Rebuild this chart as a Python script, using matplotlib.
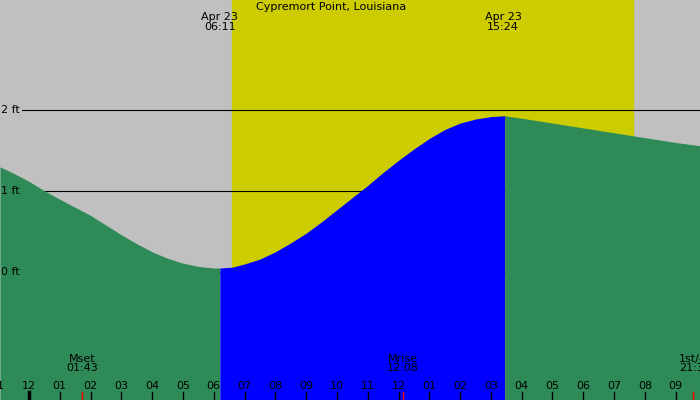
import matplotlib
matplotlib.use("Agg")
import matplotlib.pyplot as plt
import numpy as np

title = "Cypremort Point, Louisiana"
# tide readings (hour of day, feet)
hours = [-0.94, -0.5, 0, 0.52, 1, 1.5, 2, 2.5, 3, 3.5, 4, 4.5, 5, 5.5, 6, 6.2, 6.6, 7, 7.5, 8,
         8.5, 9, 9.5, 10, 10.5, 11, 11.5, 12, 12.5, 13, 13.5, 14, 14.5, 15, 15.45, 16, 17, 18,
         19, 20, 21, 21.8]
tide = [1.30, 1.22, 1.12, 1.00, 0.90, 0.80, 0.70, 0.58, 0.46, 0.35, 0.25, 0.17, 0.11, 0.07, 0.05,
        0.05, 0.06, 0.10, 0.16, 0.25, 0.36, 0.48, 0.62, 0.77, 0.92, 1.07, 1.23, 1.38, 1.52, 1.65,
        1.76, 1.84, 1.89, 1.92, 1.93, 1.90, 1.84, 1.78, 1.72, 1.66, 1.60, 1.56]
low_t, high_t = 6.2, 15.45
sunrise, sunset = 6.59, 19.61
extremes = [(6.2, "Apr 23\n06:11"), (15.4, "Apr 23\n15:24")]
moon = [(1.72, "Mset\n01:43"), (12.13, "Mrise\n12:08"), (21.55, "1st/4\n21:33")]
hour_labels = ["11", "12", "01", "02", "03", "04", "05", "06", "07", "08", "09", "10",
               "11", "12", "01", "02", "03", "04", "05", "06", "07", "08", "09"]
hour_pos = list(range(-1, 22))
ft_levels = [0, 1, 2]

x0, x1 = -0.94, 21.79
y0, y1 = -1.58, 3.36
fig = plt.figure(figsize=(7, 4), dpi=100)
ax = fig.add_axes([0, 0, 1, 1])
ax.set_xlim(x0, x1); ax.set_ylim(y0, y1); ax.axis("off")
ax.axvspan(x0, x1, color="#c0c0c0", zorder=0)
ax.axvspan(sunrise, sunset, color="#cccc00", zorder=0.5)
for lv in ft_levels:
    ax.axhline(lv, xmin=(-0.24 - x0) / (x1 - x0), color="black", lw=0.8, zorder=1)
    ax.text(-0.9, lv, f"{lv} ft", fontsize=8, va="center", ha="left", zorder=5)

h = np.array(hours); t = np.array(tide)
ax.fill_between(h, y0, t, where=(h <= low_t), color="#2e8b57", zorder=2, lw=0)
ax.fill_between(h, y0, t, where=(h >= low_t) & (h <= high_t), color="#0000ff", zorder=2, lw=0)
ax.fill_between(h, y0, t, where=(h >= high_t), color="#2e8b57", zorder=2, lw=0)

ax.text(9.8, y1 - 0.02, title, fontsize=8, ha="center", va="top")
for xe, s in extremes:
    ax.text(xe, y1 - 0.15, s, fontsize=8, ha="center", va="top", linespacing=0.95)
for xm, s in moon:
    ax.text(xm if xm < 21 else 21.1, y0 + 0.33, s, fontsize=8, va="bottom",
            ha="center" if xm < 21 else "left", linespacing=0.95, zorder=6)
    ax.plot([xm, xm], [y0, y0 + 0.1], color="red", lw=1, zorder=7)
for xp, lab in zip(hour_pos, hour_labels):
    ax.text(xp, y0 + 0.11, lab, fontsize=8, ha="center", va="bottom", zorder=6)
    ax.plot([xp, xp], [y0, y0 + 0.1], color="black", lw=2.5 if xp == 0 else 1, zorder=6)
fig.savefig("out.png", dpi=100)
